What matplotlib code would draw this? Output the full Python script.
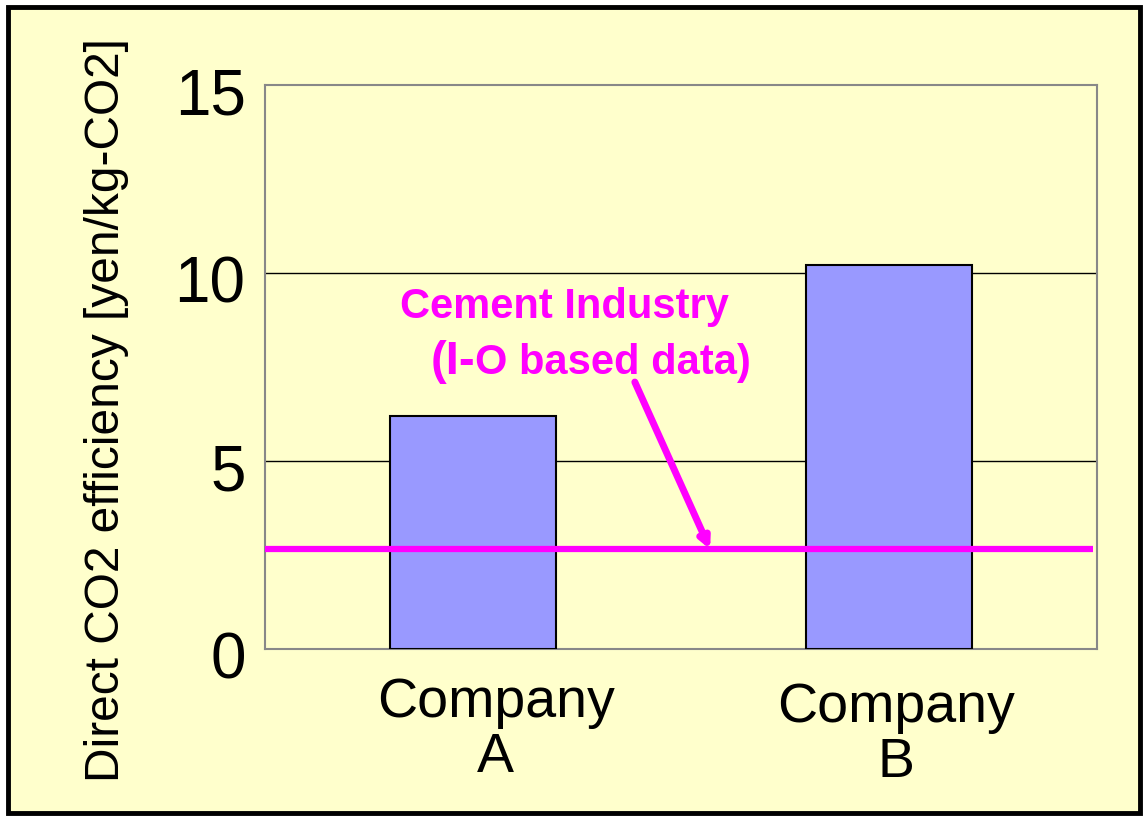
import matplotlib
matplotlib.use("Agg")
import matplotlib.pyplot as plt
import matplotlib.transforms as mtransforms
from matplotlib.patches import Rectangle

categories = ["Company\nA", "Company\nB"]
values = [6.2, 10.2]
industry_value = 2.65
yticks = [0, 5, 10, 15]
ylabel = "Direct CO2 efficiency [yen/kg-CO2]"
annotation_lines = ["Cement Industry", "(I-", "O based data)"]

plt.rcParams['font.family'] = ['Liberation Sans', 'DejaVu Sans']

W, H = 1147, 817
fig = plt.figure(figsize=(W / 100, H / 100), dpi=100)
fig.patch.set_facecolor('white')

# yellow panel with black border
fig.patches.append(Rectangle((8 / W, 1 - 813 / H), (1140 - 8) / W, (813 - 7) / H,
                             transform=fig.transFigure, facecolor='#FFFFCC',
                             edgecolor='black', linewidth=3.5, zorder=-10))

ax = fig.add_axes([265 / W, 1 - 649 / H, (1097 - 265) / W, (649 - 85) / H])
ax.set_facecolor('#FFFFCC')

x = list(range(len(categories)))
ax.bar(x, values, width=0.4, color='#9999FF', edgecolor='black', linewidth=1.5, zorder=3)
ax.set_xlim(-0.5, 1.5)
ax.set_ylim(0, 15)
ax.set_yticks(yticks)
ax.set_yticklabels([str(t) for t in yticks], fontsize=46)
ax.tick_params(axis='y', length=0, pad=14)
ax.tick_params(axis='x', length=0)
ax.set_xticks([])
shift = mtransforms.ScaledTranslation(0, -6 / 100, fig.dpi_scale_trans)
for lab in ax.get_yticklabels():
    lab.set_transform(lab.get_transform() + shift)
for yv in yticks[1:-1]:
    ax.axhline(yv, color='black', linewidth=1.0, zorder=1)
for s in ax.spines.values():
    s.set_color('#888888')
    s.set_linewidth(1.5)

# category labels
label_offsets = [0.055, 0.017]
label_y = [-0.75, -0.88]
for xi, lab, dx, dy in zip(x, categories, label_offsets, label_y):
    ax.text(xi + dx, dy, lab, ha='center', va='top', fontsize=40,
            linespacing=1.08, transform=ax.transData, clip_on=False)

# industry line
ax.plot([-0.5, 1.49], [industry_value, industry_value], color='#FF00FF', linewidth=4.5, zorder=4,
        solid_capstyle='butt')

fig.text(107 / W, 1 - 410 / H, ylabel, rotation=90, ha='center', va='center', fontsize=34.5)

ax.text(-0.175, 8.80, annotation_lines[0], color='#FF00FF', fontsize=30, fontweight='bold',
        ha='left', va='baseline')
t1 = ax.text(-0.103, 7.31, annotation_lines[1], color='#FF00FF', fontsize=34, fontweight='bold',
             ha='left', va='baseline')
fig.canvas.draw()
bb = t1.get_window_extent()
x_next = ax.transData.inverted().transform((bb.x1, bb.y0))[0]
ax.text(x_next, 7.31, annotation_lines[2], color='#FF00FF', fontsize=30, fontweight='bold',
        ha='left', va='baseline')

ax.annotate("", xy=(0.57, industry_value), xytext=(0.389, 7.1),
            arrowprops=dict(arrowstyle='-|>,head_length=0.6,head_width=0.3', color='#FF00FF',
                            lw=5, shrinkA=0, shrinkB=0), zorder=5)

fig.savefig("out.png", dpi=100, facecolor='white')
